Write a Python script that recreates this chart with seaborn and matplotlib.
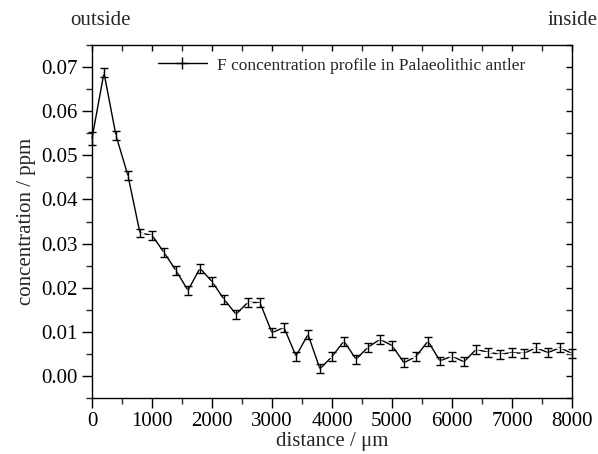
import matplotlib
matplotlib.use("Agg")
import matplotlib.pyplot as plt
import seaborn as sns
import numpy as np
import pandas as pd
from matplotlib.ticker import MultipleLocator
from matplotlib.lines import Line2D

# Fluorine profile across the antler section (distance in micrometres)
distance = [0, 200, 400, 600, 800, 1000, 1200, 1400, 1600, 1800,
            2000, 2200, 2400, 2600, 2800, 3000, 3200, 3400, 3600, 3800,
            4000, 4200, 4400, 4600, 4800, 5000, 5200, 5400, 5600, 5800,
            6000, 6200, 6400, 6600, 6800, 7000, 7200, 7400, 7600, 7800, 8000]
concentration = [0.0538, 0.0687, 0.0545, 0.0454, 0.0324, 0.0319, 0.0280, 0.0239, 0.0194, 0.0244,
                 0.0214, 0.0174, 0.0140, 0.0167, 0.0166, 0.0098, 0.0110, 0.0045, 0.0094, 0.0016,
                 0.0044, 0.0079, 0.0038, 0.0065, 0.0083, 0.0069, 0.0030, 0.0044, 0.0079, 0.0034,
                 0.0045, 0.0032, 0.0060, 0.0054, 0.0049, 0.0053, 0.0051, 0.0064, 0.0053, 0.0064, 0.0051]
uncertainty = [0.0015] + [0.001] * 40

series_label = "F concentration profile in Palaeolithic antler"

df = pd.DataFrame({"distance": distance, "concentration": concentration, "err": uncertainty})

sns.set_theme(style="ticks")
plt.rcParams["font.family"] = ["Liberation Serif", "DejaVu Serif"]

fig = plt.figure(figsize=(5.98, 4.54), dpi=100)
ax = fig.add_axes([0.1538, 0.1233, 0.8027, 0.7776])

sns.lineplot(data=df, x="distance", y="concentration", ax=ax, color="black",
             linewidth=1.0, marker="+", markersize=6, markeredgewidth=1.0,
             legend=False, clip_on=False)
eb = ax.errorbar(df["distance"], df["concentration"], yerr=df["err"], fmt="none",
                 ecolor="black", elinewidth=1.0, capsize=3, capthick=1.0)
for part in eb.lines[1]:
    part.set_clip_on(False)
for part in eb.lines[2]:
    part.set_clip_on(False)

ax.set_xlim(0, 8000)
ax.set_ylim(-0.005, 0.075)
ax.xaxis.set_major_locator(MultipleLocator(1000))
ax.xaxis.set_minor_locator(MultipleLocator(500))
ax.yaxis.set_major_locator(MultipleLocator(0.01))
ax.yaxis.set_minor_locator(MultipleLocator(0.005))
ax.yaxis.set_major_formatter(matplotlib.ticker.FormatStrFormatter("%.2f"))

for side in ["left", "right", "top", "bottom"]:
    ax.spines[side].set_linewidth(1.0)
    ax.spines[side].set_color("black")

ax.tick_params(axis="both", which="major", labelsize=15, colors="black",
               direction="out", length=7, width=1.0, pad=3)
ax.tick_params(axis="both", which="minor", direction="out", length=4, width=1.0)
ax.tick_params(axis="x", which="both", top=True, bottom=True)
ax.tick_params(axis="y", which="both", left=True, right=True)

ax.set_xlabel("distance / \u03bcm", fontsize=15, labelpad=1)
ax.set_ylabel("concentration / ppm", fontsize=15, labelpad=4)

# inward ticks on the top and right edges
for t in ax.xaxis.get_major_ticks() + ax.xaxis.get_minor_ticks():
    t.tick2line.set_marker(3)  # TICKDOWN
    t.tick2line.set_markersize(4)
for t in ax.yaxis.get_major_ticks() + ax.yaxis.get_minor_ticks():
    t.tick2line.set_marker(0)  # TICKLEFT
    t.tick2line.set_markersize(4)

handle = Line2D([], [], color="black", linewidth=1.0, marker="+",
                markersize=9, markeredgewidth=1.0)
ax.legend([handle], [series_label], loc="upper left", frameon=False,
          fontsize=12.5, handlelength=2.8, handletextpad=0.6,
          bbox_to_anchor=(0.1375, 0.965), borderaxespad=0, borderpad=0)

fig.text(0.117, 0.955, "outside", fontsize=15, ha="left", va="center")
fig.text(1.0, 0.955, "inside", fontsize=15, ha="right", va="center")

fig.savefig("out.png", dpi=100)
